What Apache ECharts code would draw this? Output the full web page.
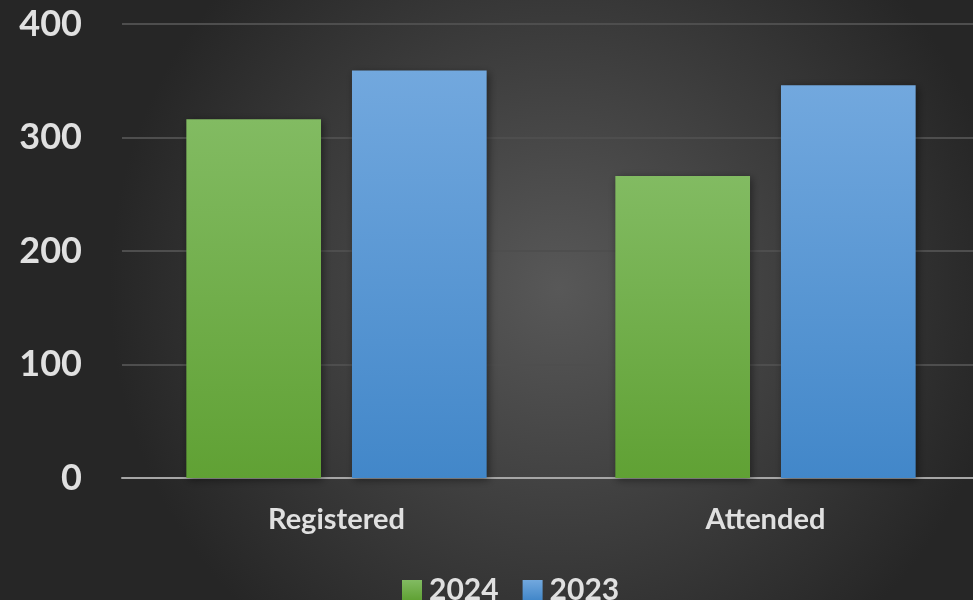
<!DOCTYPE html>
<html>
<head>
<meta charset="utf-8">
<script src="https://cdn.jsdelivr.net/npm/echarts@6/dist/echarts.min.js"></script>
<style>
html,body{margin:0;padding:0;width:973px;height:600px;overflow:hidden;}
#c{width:981px;height:600px;}
</style>
</head>
<body>
<div id="c"></div>
<script>
const categories = ['Registered', 'Attended'];
const seriesNames = ['2024', '2023'];
const values2024 = [316, 266];
const values2023 = [359, 346];
const yTicks = [0, 100, 200, 300, 400];

const chart = echarts.init(document.getElementById('c'), null, {renderer: 'canvas'});
const grad = (top, bottom) => new echarts.graphic.LinearGradient(0, 0, 0, 1, [
  {offset: 0, color: top}, {offset: 1, color: bottom}
]);
const labelColor = '#e0e0e0';
const font = 'Lato';
chart.setOption({
  backgroundColor: new echarts.graphic.RadialGradient(0.57, 0.48, 0.75, [
    {offset: 0, color: '#585858'}, {offset: 1, color: '#262626'}
  ]),
  animation: false,
  grid: {left: 122, right: 1, top: 24, bottom: 122, containLabel: false},
  legend: {
    data: seriesNames,
    left: 397, top: 570,
    itemWidth: 20, itemHeight: 20, itemGap: 24,
    icon: 'rect',
    textStyle: {color: labelColor, fontFamily: font, fontWeight: 'bold', fontSize: 30, padding: [0, 0, 0, 2]}
  },
  xAxis: {
    type: 'category',
    data: categories,
    axisLine: {show: true, lineStyle: {color: '#a6a6a6', width: 2}},
    axisTick: {show: false},
    axisLabel: {color: labelColor, fontFamily: font, fontWeight: 'bold', fontSize: 29, margin: 27}
  },
  yAxis: {
    type: 'value',
    min: yTicks[0], max: yTicks[yTicks.length - 1], interval: 100,
    axisLine: {show: false},
    axisTick: {show: false},
    splitLine: {lineStyle: {color: '#4e4e4e', width: 2}},
    axisLabel: {color: labelColor, fontFamily: font, fontWeight: 'bold', fontSize: 36, margin: 40}
  },
  series: [
    {
      name: seriesNames[0], type: 'bar', data: values2024,
      barGap: '23%', barCategoryGap: '30%',
      itemStyle: {color: grad('#82bb62', '#60a134'), shadowBlur: 8, shadowColor: 'rgba(0,0,0,0.45)', shadowOffsetX: 2, shadowOffsetY: 2}
    },
    {
      name: seriesNames[1], type: 'bar', data: values2023,
      barGap: '23%', barCategoryGap: '30%',
      itemStyle: {color: grad('#72a8de', '#4287c9'), shadowBlur: 8, shadowColor: 'rgba(0,0,0,0.45)', shadowOffsetX: 2, shadowOffsetY: 2}
    }
  ]
});
</script>
</body>
</html>
